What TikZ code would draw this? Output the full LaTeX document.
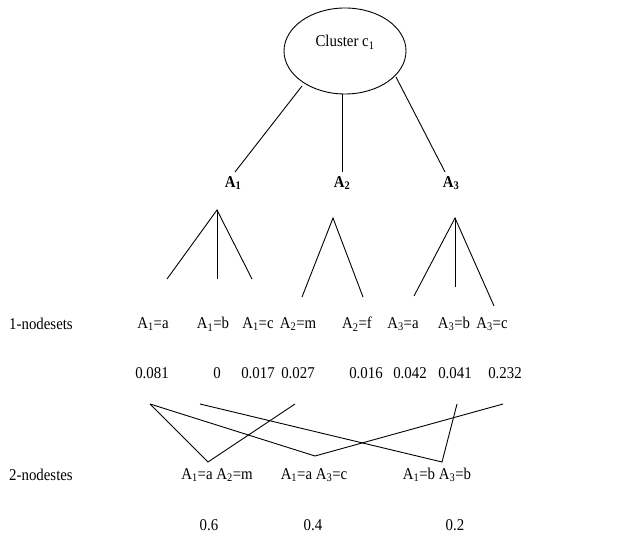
\documentclass[tikz,border=0pt]{standalone}
\usepackage{fontspec}
\setmainfont[FakeStretch=0.9]{Liberation Serif}
\usetikzlibrary{shapes.geometric}
\newcommand{\Ai}[1]{A\textsubscript{#1}}
\tikzset{
  txt/.style={font=\fontsize{16.5}{18}\selectfont, inner sep=1pt, anchor=center},
  btxt/.style={txt, font=\fontsize{16.5}{18}\selectfont\bfseries},
  ln/.style={draw=black, line width=0.9pt},
}
\begin{document}
\begin{tikzpicture}[x=1pt,y=-1pt]
\useasboundingbox (0,0) rectangle (634,537);
% root
\node[ellipse, draw, line width=0.9pt, minimum width=122pt, minimum height=86pt, inner sep=0pt] (c) at (345,51) {};
\node[txt] (ct) at (345,42) {Cluster c\textsubscript{1}};
% attributes
\node[btxt] (a1) at (233,183) {\Ai{1}};
\node[btxt] (a2) at (342,183) {\Ai{2}};
\node[btxt] (a3) at (451,183) {\Ai{3}};
\coordinate (c1) at (302,86);
\coordinate (c3) at (396,77);
\coordinate (c2) at (342,94);
\coordinate (e1) at (235,172);
\coordinate (e2) at (342,172);
\coordinate (e3) at (445,172);
\draw[ln] (c1) -- (e1);
\draw[ln] (c2) -- (e2);
\draw[ln] (c3) -- (e3);
% fans
\coordinate (f1) at (217,210);
\coordinate (f1a) at (167,279);
\coordinate (f1b) at (217,279);
\coordinate (f1c) at (252,279);
\coordinate (f2) at (333,218);
\coordinate (f2a) at (302,297);
\coordinate (f2b) at (363,297);
\coordinate (f3) at (455,218);
\coordinate (f3a) at (414,296);
\coordinate (f3b) at (455,287);
\coordinate (f3c) at (494,306);
\draw[ln] (f1a) -- (f1) -- (f1c);
\draw[ln] (f1) -- (f1b);
\draw[ln] (f2a) -- (f2) -- (f2b);
\draw[ln] (f3a) -- (f3) -- (f3c);
\draw[ln] (f3) -- (f3b);
% row labels
\node[txt] (r1) at (41,324) {1-nodesets};
\node[txt] (r2) at (41,475) {2-nodestes};
% 1-nodesets
\node[txt] (n1) at (153,324) {\Ai{1}=a};
\node[txt] (n2) at (213,324) {\Ai{1}=b};
\node[txt] (n3) at (258,324) {\Ai{1}=c};
\node[txt] (n4) at (298,324) {\Ai{2}=m};
\node[txt] (n5) at (357,324) {\Ai{2}=f};
\node[txt] (n6) at (403,324) {\Ai{3}=a};
\node[txt] (n7) at (454,324) {\Ai{3}=b};
\node[txt] (n8) at (492,324) {\Ai{3}=c};
% values
\node[txt] (v1) at (152,373) {0.081};
\node[txt] (v2) at (217,373) {0};
\node[txt] (v3) at (258,373) {0.017};
\node[txt] (v4) at (298,373) {0.027};
\node[txt] (v5) at (366,373) {0.016};
\node[txt] (v6) at (410,373) {0.042};
\node[txt] (v7) at (455,373) {0.041};
\node[txt] (v8) at (505,373) {0.232};
% cross lines
\coordinate (p1) at (150,404);
\coordinate (p2) at (200,404);
\coordinate (p3) at (295,404);
\coordinate (p4) at (457,404);
\coordinate (p5) at (503,404);
\coordinate (q1) at (208,462);
\coordinate (q2) at (315,456);
\coordinate (q3) at (442,462);
\draw[ln] (p1) -- (q1) -- (p3);
\draw[ln] (p1) -- (q2) -- (p5);
\draw[ln] (p2) -- (q3) -- (p4);
% 2-nodesets
\node[txt] (m1) at (217,475) {\Ai{1}=a \Ai{2}=m};
\node[txt] (m2) at (314,475) {\Ai{1}=a \Ai{3}=c};
\node[txt] (m3) at (437,475) {\Ai{1}=b \Ai{3}=b};
\node[txt] (w1) at (209,525) {0.6};
\node[txt] (w2) at (313,525) {0.4};
\node[txt] (w3) at (455,525) {0.2};
\end{tikzpicture}
\end{document}
